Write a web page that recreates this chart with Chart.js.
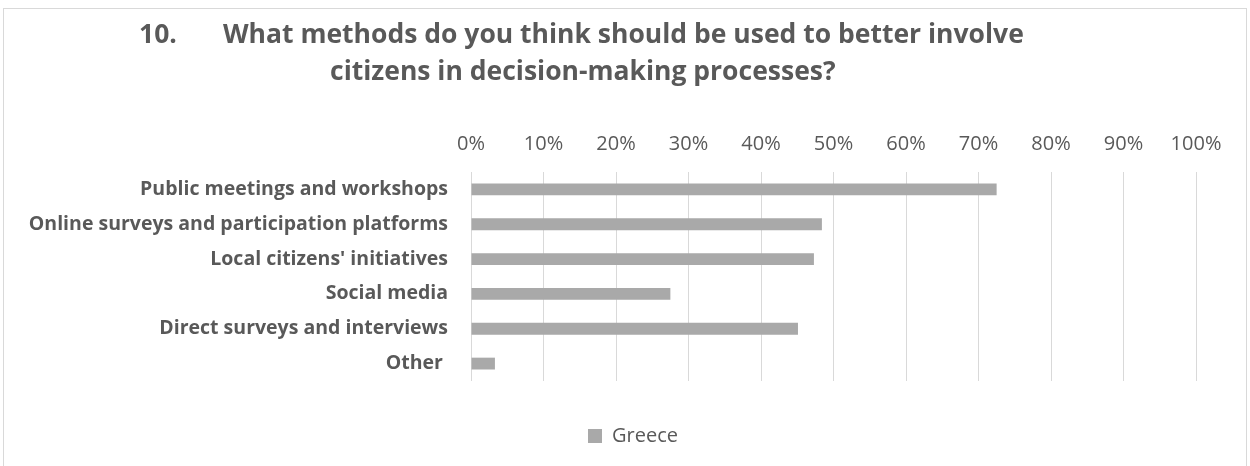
<!DOCTYPE html>
<html>
<head>
<meta charset="utf-8">
<script src="https://cdn.jsdelivr.net/npm/chart.js@4/dist/chart.umd.min.js"></script>
<style>
  html, body { margin: 0; padding: 0; background: #fff; }
  #wrap { position: relative; width: 1250px; height: 466px; }
</style>
</head>
<body>
<div id="wrap"><canvas id="methodsChart" width="1250" height="466"></canvas></div>
<script>
const titleNumber = '10.';
const titleLines = [
  'What methods do you think should be used to better involve',
  'citizens in decision-making processes?'
];
const categories = [
  'Public meetings and workshops',
  'Online surveys and participation platforms',
  "Local citizens' initiatives",
  'Social media',
  'Direct surveys and interviews',
  'Other '
];
const greece = [72.5, 48.4, 47.3, 27.5, 45.1, 3.3];
const seriesName = 'Greece';

const textColor = '#595959';
const gridColor = '#d9d9d9';
const barColor = '#a9a9a9';
const fontFamily = "'Open Sans', sans-serif";

// outer frame and the two-line heading
const framePlugin = {
  id: 'frame',
  afterLayout(chart) {
    // centre the legend under the whole frame rather than the padded box
    const shift = (chart.width - (chart.legend.left + chart.legend.right)) / 2 + 8;
    chart.legend.left += shift;
    chart.legend.right += shift;
  },
  beforeDraw(chart) {
    const c = chart.ctx;
    c.save();
    c.fillStyle = '#fff';
    c.fillRect(0, 0, chart.width, chart.height);
    c.strokeStyle = gridColor;
    c.lineWidth = 1;
    c.strokeRect(3.5, 8.5, 1243, 470);
    c.restore();
  },
  afterDraw(chart) {
    const c = chart.ctx;
    c.save();
    c.fillStyle = textColor;
    c.font = 'bold 26.5px ' + fontFamily;
    c.textBaseline = 'alphabetic';
    c.fillText(titleNumber, 139, 43);
    c.fillText(titleLines[0], 223, 43);
    c.fillText(titleLines[1], 330, 80);
    c.restore();
  }
};

const ctx = document.getElementById('methodsChart').getContext('2d');
const methodsChart = new Chart(ctx, {
  type: 'bar',
  data: {
    labels: categories,
    datasets: [{
      label: seriesName,
      data: greece,
      backgroundColor: barColor,
      barPercentage: 0.5,
      categoryPercentage: 0.68
    }]
  },
  options: {
    indexAxis: 'y',
    responsive: false,
    animation: false,
    layout: { padding: { top: 130, right: 54, bottom: 10, left: 0 } },
    scales: {
      x: {
        position: 'top',
        min: 0,
        max: 100,
        border: { display: false },
        grid: { color: gridColor, lineWidth: 1, drawTicks: false },
        ticks: {
          stepSize: 10,
          padding: 16,
          color: textColor,
          font: { family: fontFamily, size: 20 },
          callback: (v) => v + '%'
        },
        afterFit: (scale) => { scale.height = 42; }
      },
      y: {
        border: { display: false },
        grid: { display: false, drawTicks: false },
        ticks: {
          padding: 23,
          color: textColor,
          font: { family: fontFamily, size: 19.5, weight: 'bold' }
        },
        afterFit: (scale) => { scale.width = 471; }
      }
    },
    plugins: {
      legend: {
        position: 'bottom',
        title: { display: true, text: '', font: { size: 1, lineHeight: 1 }, padding: { top: 36, bottom: 0 } },
        labels: {
          boxWidth: 14,
          boxHeight: 14,
          padding: 8,
          color: textColor,
          font: { family: fontFamily, size: 20 }
        }
      },
      tooltip: { enabled: false }
    }
  },
  plugins: [framePlugin]
});
</script>
</body>
</html>
